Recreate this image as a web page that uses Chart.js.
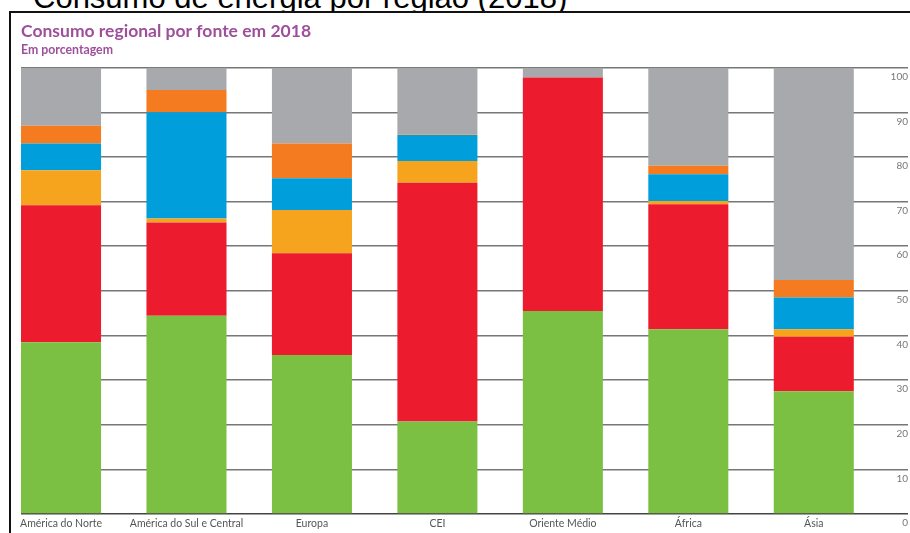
<!DOCTYPE html>
<html lang="pt">
<head>
<meta charset="utf-8">
<title>Consumo de energia por região (2018)</title>
<script src="https://cdn.jsdelivr.net/npm/chart.js@4.4.1/dist/chart.umd.min.js"></script>
<style>
  html, body { margin: 0; padding: 0; background: #fff; }
  #page { position: relative; width: 910px; height: 533px; overflow: hidden; }
  #heading {
    position: absolute; left: 0; top: 0; width: 910px; height: 11px; overflow: hidden;
  }
  #heading span {
    position: absolute; left: 33px; top: -18px;
    font: 31px/31px "Liberation Sans", Arial, sans-serif; color: #000; white-space: nowrap;
  }
  #frame {
    position: absolute; left: 9px; top: 11px; width: 1000px; height: 1000px;
    border: 2px solid #111;
  }
  #wrap { position: absolute; left: 0; top: 0; width: 910px; height: 533px; }
</style>
</head>
<body>
<div id="page">
  <div id="heading"><span>Consumo de energia por região (2018)</span></div>
  <div id="frame"></div>
  <div id="wrap"><canvas id="chart"></canvas></div>
</div>
<script>
// Regiões e participação de cada fonte (%)
const regions = ["América do Norte", "América do Sul e Central", "Europa", "CEI", "Oriente Médio", "África", "Ásia"];
const oil        = [38.5, 44.4, 35.6, 20.7, 45.5, 41.4, 27.5];
const gas        = [30.7, 20.9, 22.8, 53.5, 52.3, 28.0, 12.2];
const nuclear    = [7.8, 0.9, 9.7, 4.9, 0, 0.7, 1.7];
const hydro      = [6.0, 23.8, 7.1, 5.8, 0, 6.0, 7.1];
const renewables = [4.0, 5.0, 7.8, 0.1, 0, 1.9, 3.9];
const coal       = [13.0, 5.0, 17.0, 15.0, 2.2, 22.0, 47.6];
const yTicks = [0, 10, 20, 30, 40, 50, 60, 70, 80, 90, 100];

// each bar sits at the left of its slot; centre offset inside the slot
const slot = 0.319;
const xs = regions.map((_, i) => i + slot);

const series = [
  { label: "Petróleo", values: oil, color: "#7bc043" },
  { label: "Gás natural", values: gas, color: "#ec1b2d" },
  { label: "Energia nuclear", values: nuclear, color: "#f6a31e" },
  { label: "Hidroeletricidade", values: hydro, color: "#009fdc" },
  { label: "Renováveis", values: renewables, color: "#f47b20" },
  { label: "Carvão", values: coal, color: "#a8a9ad" }
];

const chart = new Chart(document.getElementById("chart"), {
  type: "bar",
  data: {
    datasets: series.map(s => ({
      label: s.label,
      data: s.values.map((v, i) => ({ x: xs[i], y: v })),
      backgroundColor: s.color,
      borderWidth: 0,
      categoryPercentage: 1,
      barPercentage: 0.638
    }))
  },
  options: {
    responsive: true,
    maintainAspectRatio: false,
    animation: false,
    layout: { padding: { left: 21, right: 2, top: 14, bottom: 0 } },
    plugins: {
      legend: { display: false },
      tooltip: { enabled: false },
      title: {
        display: true,
        text: "Consumo regional por fonte em 2018",
        align: "start",
        color: "#9e4f9b",
        font: { family: "Lato", size: 17.5, weight: "bold", lineHeight: 1.2 },
        padding: { top: 7.1, bottom: 0 }
      },
      subtitle: {
        display: true,
        text: "Em porcentagem",
        align: "start",
        color: "#9e4f9b",
        font: { family: "Lato", size: 12.3, weight: "bold", lineHeight: 1.2 },
        padding: { top: 0.6, bottom: 10.2 }
      }
    },
    scales: {
      x: {
        type: "linear",
        stacked: true,
        offset: false,
        min: 0,
        max: 7.07,
        grid: { display: false, drawTicks: false },
        border: { display: false },
        afterBuildTicks: scale => { scale.ticks = xs.map(v => ({ value: v })); },
        afterFit: scale => { scale.height = 19; },
        ticks: {
          autoSkip: false,
          maxRotation: 0,
          padding: 3,
          color: "#555",
          font: { family: "Lato", size: 10.5 },
          callback: (value, index) => regions[index]
        }
      },
      y: {
        position: "right",
        stacked: true,
        min: 0,
        max: 100,
        afterBuildTicks: scale => { scale.ticks = yTicks.map(v => ({ value: v })); },
        grid: {
          drawTicks: false,
          color: ctx => ctx.tick && ctx.tick.value === 0 ? "#444" : "#777",
          lineWidth: 1.5
        },
        border: { display: false },
        ticks: {
          mirror: true,
          padding: 0,
          labelOffset: 9,
          color: "#777",
          font: { family: "Lato", size: 10 }
        }
      }
    }
  }
});
</script>
</body>
</html>
